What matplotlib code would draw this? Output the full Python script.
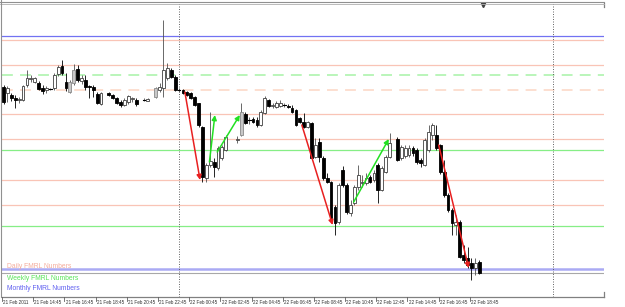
import numpy as np
import matplotlib.pyplot as plt
from matplotlib.patches import Rectangle, FancyArrowPatch

# 15 minute bars from 21 Feb 2011 12:45, prices in points (None = no bar drawn)
opens = [213, 207, 205, 202, 200, 200, 215, 221, 218, 217, 212, 210, 211, 212, 226, 234, 218, 208, 217, 231,
         219, 220, 214, 213, 206, 196, None, 207, 205, 202, 198, 195, 198, 201, 200, None, 200, 199, None, 203,
         210, 212, 222, 230, 223, 210, 210, 208, 207, 203, 197, 173, 122, 135, 138, 132, 142, 150, None, None,
         160, 165, 186, 180, 181, 180, 175, 187, 200, 194, 193, 194, 195, 194, 192, 190, 182, 178, 173, 177,
         143, 158, 142, 122, 118, 93, 78, 130, 115, 87, 97, 113, 117, 117, 123, 120, 135, 110, 128, 143,
         None, 161, 142, 144, 145, 152, 150, 140, 135, 150, 165, 165, 155, 128, 105, 90, 75, 78, 45, 42,
         37, 32, 38]
highs = [215, 214, 207, 205, 203, 215, 230, 225, 223, 219, 215, 214, 212, 227, 235, 240, 227, 220, 236, 235,
         225, 225, 215, 215, 208, 208, None, 208, 206, 203, 200, 202, 205, 203, 202, None, 202, 202, None, 213,
         217, 280, 237, 232, 225, 212, 211, 209, 208, 204, 197, 174, 137, 188, 142, 154, 155, 165, None, None,
         164, 197, 188, 183, 183, 183, 190, 204, 201, 197, 199, 200, 197, 196, 195, 191, 183, 187, 179, 178,
         162, 162, 144, 127, 119, 95, 117, 134, 117, 100, 115, 135, 125, 127, 125, 130, 137, 134, 145, 167,
         None, 163, 155, 155, 155, 154, 152, 142, 162, 175, 177, 175, 156, 140, 107, 92, 85, 80, 55, 53,
         42, 42, 40]
lows = [196, 198, 199, 192, 197, 199, 213, 218, 217, 210, 206, 207, 210, 210, 224, 225, 209, 207, 215, 218,
        216, 210, 202, 203, 196, 195, None, 204, 201, 196, 193, 194, 196, 198, 194, None, 199, 199, None, 202,
        208, 203, 220, 222, 209, 208, 206, 204, 201, 194, 173, 118, 118, 133, 123, 130, 140, 149, None, None,
        157, 164, 176, 176, 177, 173, 174, 186, 193, 192, 192, 193, 193, 192, 187, 174, 177, 172, 172, 140,
        142, 138, 120, 117, 81, 65, 76, 113, 86, 84, 95, 110, 113, 115, 117, 118, 97, 109, 127, 142,
        None, 139, 140, 142, 143, 144, 136, 133, 134, 148, 160, 150, 126, 103, 88, 65, 65, 42, 37, 32,
        20, 25, 26]
closes = [198, 212, 202, 200, 201, 214, 222, 222, 222, 211, 209, 212, 211, 225, 233, 227, 212, 218, 230, 220,
          222, 213, 213, 210, 197, 207, None, 205, 202, 197, 195, 200, 204, 202, 196, None, 200, 201, None, 212,
          213, 230, 232, 223, 210, 210, 207, 205, 202, 195, 175, 123, 135, 139, 133, 152, 153, 163, None, None,
          161, 188, 177, 180, 178, 175, 188, 202, 194, 195, 197, 197, 195, 193, 188, 175, 178, 173, 178, 142,
          155, 143, 122, 118, 82, 77, 115, 115, 88, 95, 113, 125, 118, 122, 118, 127, 110, 132, 143, 157,
          None, 140, 153, 152, 152, 147, 138, 137, 160, 168, 175, 152, 128, 105, 90, 77, 78, 43, 40, 35,
          32, 37, 27]
gray_bars = [17, 18, 39, 61]

time_labels = ['21 Feb 2011', '21 Feb 14:45', '21 Feb 16:45', '21 Feb 18:45', '21 Feb 20:45',
               '21 Feb 22:45', '22 Feb 00:45', '22 Feb 02:45', '22 Feb 04:45', '22 Feb 06:45',
               '22 Feb 08:45', '22 Feb 10:45', '22 Feb 12:45', '22 Feb 14:45', '22 Feb 16:45',
               '22 Feb 18:45']
bars_per_label = 8
day_separators = [45, 141]

daily_levels = [260, 235, 186, 161, 120, 95]
daily_dashed = [210]
weekly_levels = [150.5, 74]
weekly_dashed = [225.5]
monthly_top = 264
monthly_low = 31

# swing arrows: (bar_start, price_start, bar_end, price_end)
red_arrows = [(46.5, 208, 50.4, 120), (76.5, 175, 84.4, 75), (111.6, 155, 119.3, 32)]
green_arrows = [(52.8, 138, 54.2, 185), (54.8, 148, 60.6, 185), (89.8, 98, 98.8, 161)]

W, H = 625, 307
fig = plt.figure(figsize=(W / 100, H / 100), dpi=100)
fig.patch.set_facecolor('white')
ax = fig.add_axes([2 / W, 10 / H, 602 / W, 294 / H])
ax.set_xlim(-0.4, 154.0)
ax.set_ylim(3, 297)
ax.set_facecolor('white')

salmon = '#f9c4b6'
green = '#86ee86'
for lv in daily_levels:
    ax.axhline(lv, color=salmon, lw=0.9, zorder=1)
for lv in daily_dashed:
    ax.axhline(lv, color='#fcdccd', lw=1.3, ls=(0, (6, 4)), zorder=1)
for lv in weekly_levels:
    ax.axhline(lv, color=green, lw=0.9, zorder=1)
for lv in weekly_dashed:
    ax.axhline(lv, color='#b4f4b4', lw=1.3, ls=(0, (6, 4)), zorder=1)
ax.axhline(monthly_top, color='#7272f2', lw=0.9, zorder=1)
ax.axhline(monthly_low, color='#aaaaf4', lw=1.8, zorder=1)

closes_valid = [c for c in closes if c is not None]
ax.axhline(closes_valid[-1], color='#a8a8a8', lw=0.8, zorder=1)

for b in day_separators:
    ax.axvline(b, color='#505050', lw=0.6, ls=(0, (1.2, 1.8)), zorder=1)

bw = 0.72
for i, (o, h, l, c) in enumerate(zip(opens, highs, lows, closes)):
    if o is None:
        continue
    bear = c < o
    wick_col = 'black' if bear else '#505050'
    ax.plot([i, i], [l, h], color=wick_col, lw=0.6, zorder=3, solid_capstyle='butt')
    lo, hi = min(o, c), max(o, c)
    if hi - lo < 0.8:
        ax.plot([i - bw / 2, i + bw / 2], [o, o], color='black', lw=0.8, zorder=4)
        continue
    if bear:
        fc, ec = 'black', 'black'
    elif i in gray_bars:
        fc, ec = '#c8c8c8', '#8a8a8a'
    else:
        fc, ec = 'white', '#404040'
    ax.add_patch(Rectangle((i - bw / 2, lo), bw, hi - lo, facecolor=fc, edgecolor=ec, lw=0.6, zorder=4))

for x0, y0, x1, y1 in red_arrows:
    ax.add_patch(FancyArrowPatch((x0, y0), (x1, y1), arrowstyle='-|>', mutation_scale=7,
                                 color='#e82020', lw=1.1, zorder=5, shrinkA=0, shrinkB=0))
for x0, y0, x1, y1 in green_arrows:
    ax.add_patch(FancyArrowPatch((x0, y0), (x1, y1), arrowstyle='-|>', mutation_scale=7,
                                 color='#22e022', lw=1.1, zorder=5, shrinkA=0, shrinkB=0))

# frame like the terminal window
for s in ['right', 'top', 'left', 'bottom']:
    ax.spines[s].set_visible(False)
ax.plot([0, 1], [0, 0], transform=ax.transAxes, color='#808080', lw=0.9, clip_on=False)
ax.plot([1, 1], [0, 0.018], transform=ax.transAxes, color='#808080', lw=0.9, clip_on=False)
ax.plot([1, 1], [0.985, 1.0], transform=ax.transAxes, color='#808080', lw=0.9, clip_on=False)
fig.add_artist(plt.Line2D([0, 604 / W], [1 - 1.5 / H, 1 - 1.5 / H], color='#909090', lw=0.8))
fig.add_artist(plt.Line2D([0, 604 / W], [1 - 3.5 / H, 1 - 3.5 / H], color='#b0b0b0', lw=0.6))
fig.add_artist(plt.Line2D([1.2 / W, 1.2 / W], [10 / H, 1], color='#909090', lw=0.8))
ax.plot([123], [295], marker='v', ms=3, color='#404040', clip_on=False, zorder=6)

ax.set_xticks([])
ax.set_yticks([])
tick_font = ['Liberation Sans Narrow', 'Liberation Sans', 'DejaVu Sans']
for k, lab in enumerate(time_labels):
    b = k * bars_per_label
    ax.plot([b - 0.4, b - 0.4], [0, -0.014], transform=ax.get_xaxis_transform(),
            color='#606060', lw=0.6, clip_on=False)
    ax.text(b - 0.1, -0.018, lab, transform=ax.get_xaxis_transform(), ha='left', va='center',
            fontsize=3.3, color='#303030', family=tick_font)

label_font = ['Liberation Sans', 'DejaVu Sans']
fig.text(7 / W, 1 - 266 / H, 'Daily FMRL Numbers', color='#f4ac9c', fontsize=4.9,
         ha='left', va='center', family=label_font)
fig.text(7 / W, 1 - 279 / H, 'Weekly FMRL Numbers', color='#58e458', fontsize=4.9,
         ha='left', va='center', family=label_font)
fig.text(7 / W, 1 - 288.5 / H, 'Monthly FMRL Numbers', color='#6060f0', fontsize=4.9,
         ha='left', va='center', family=label_font)

fig.savefig('out.png', dpi=100, facecolor='white')
